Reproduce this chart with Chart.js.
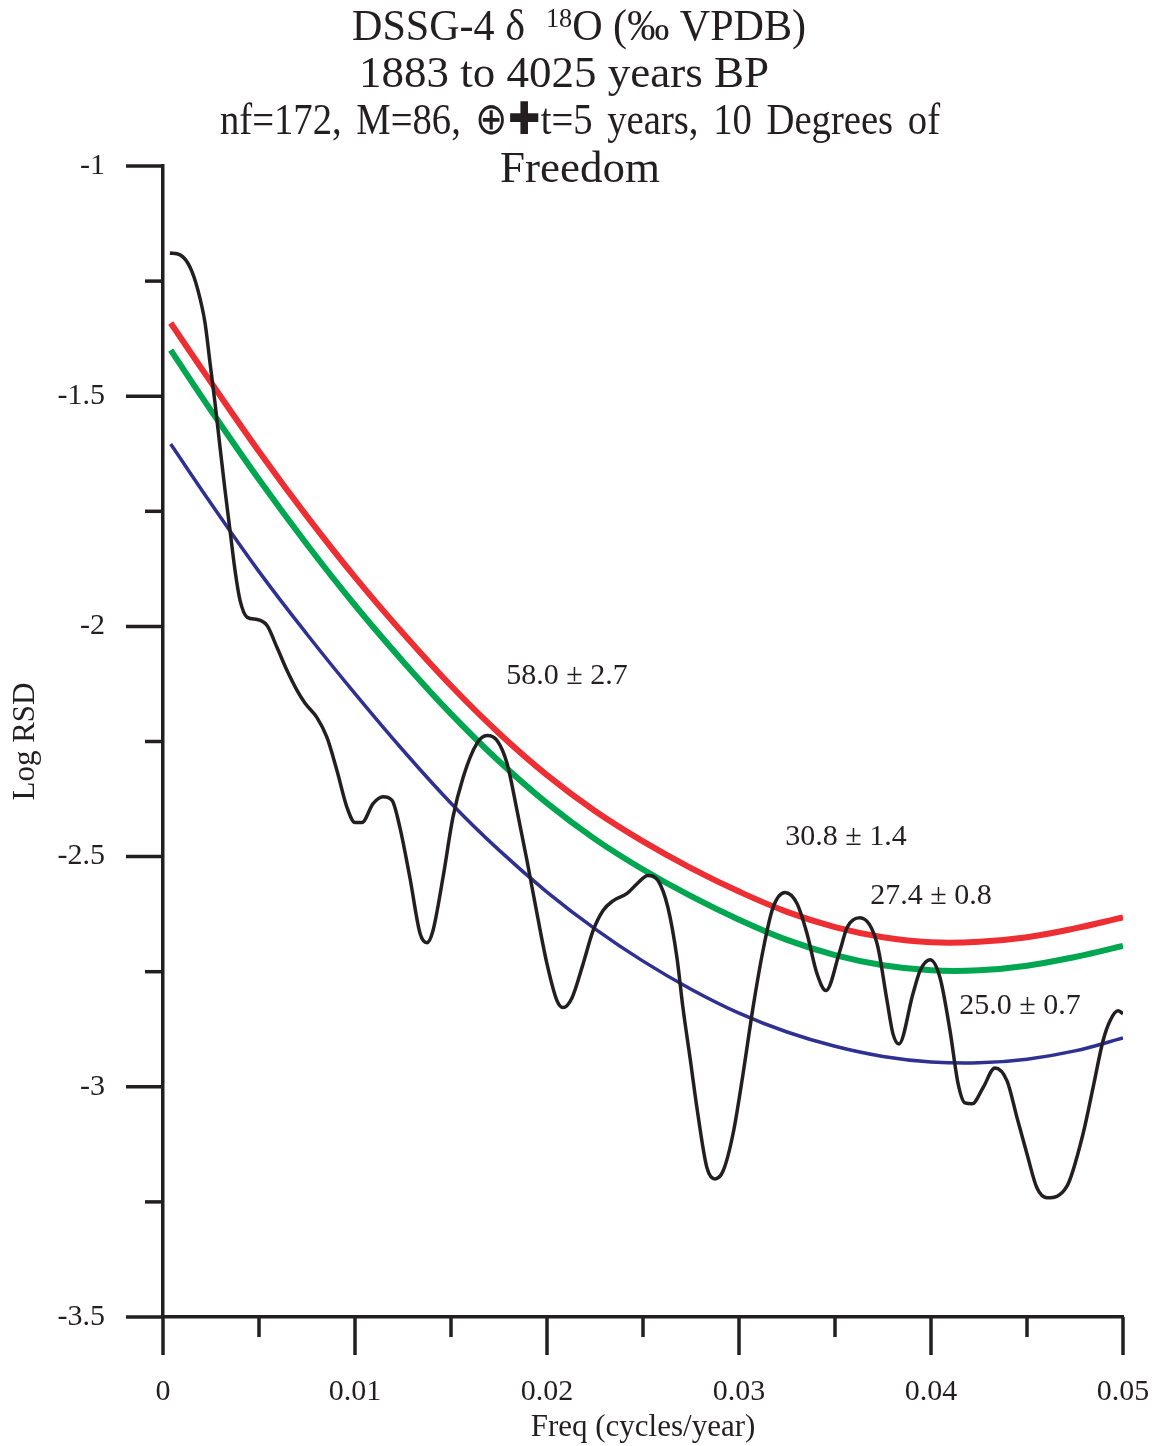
<!DOCTYPE html>
<html lang="en">
<head>
  <meta charset="UTF-8">
  <title>DSSG-4 d18O spectrum</title>
  <script src="https://cdn.jsdelivr.net/npm/chart.js@4.4.3/dist/chart.umd.min.js"></script>
  <style>
    body { margin: 0; background: #fff; }
    #wrap { width: 1158px; height: 1446px; }
  </style>
</head>
<body>
  <div id="wrap"><canvas id="spec" width="1158" height="1446"></canvas></div>

  <script>
    // spectrum (black)
    const rsdFreq = [0.00036, 0.00089, 0.00141, 0.00182, 0.00219, 0.00245, 0.00271, 0.00297, 0.00323, 0.00349,
      0.00375, 0.00401, 0.00438, 0.00490, 0.00542, 0.00594, 0.00646, 0.00698, 0.00740, 0.00802,
      0.00854, 0.00906, 0.00958, 0.01000, 0.01036, 0.01094, 0.01146, 0.01193, 0.01234, 0.01286,
      0.01339, 0.01375, 0.01406, 0.01458, 0.01510, 0.01563, 0.01635, 0.01688, 0.01740, 0.01792,
      0.01844, 0.01896, 0.01948, 0.02000, 0.02052, 0.02083, 0.02130, 0.02188, 0.02240, 0.02292,
      0.02344, 0.02417, 0.02469, 0.02526, 0.02578, 0.02630, 0.02677, 0.02708, 0.02745, 0.02781,
      0.02833, 0.02875, 0.02917, 0.02969, 0.03021, 0.03073, 0.03125, 0.03177, 0.03240, 0.03302,
      0.03354, 0.03406, 0.03453, 0.03526, 0.03563, 0.03630, 0.03719, 0.03771, 0.03802, 0.03833,
      0.03906, 0.03943, 0.03995, 0.04047, 0.04099, 0.04141, 0.04177, 0.04214, 0.04271, 0.04333,
      0.04396, 0.04448, 0.04500, 0.04552, 0.04604, 0.04708, 0.04792, 0.04844, 0.04896, 0.04932,
      0.04974, 0.05000];
    const rsdLog = [-1.189, -1.193, -1.220, -1.270, -1.341, -1.428, -1.515, -1.611, -1.704, -1.791,
      -1.878, -1.943, -1.980, -1.985, -1.998, -2.046, -2.096, -2.139, -2.167, -2.198,
      -2.241, -2.313, -2.393, -2.426, -2.426, -2.385, -2.370, -2.378, -2.437, -2.546,
      -2.667, -2.687, -2.661, -2.546, -2.415, -2.328, -2.254, -2.237, -2.248, -2.298,
      -2.400, -2.509, -2.624, -2.733, -2.813, -2.828, -2.807, -2.733, -2.661, -2.617,
      -2.596, -2.580, -2.559, -2.541, -2.552, -2.611, -2.720, -2.828, -2.937, -3.046,
      -3.176, -3.200, -3.183, -3.102, -2.972, -2.828, -2.704, -2.611, -2.578, -2.602,
      -2.667, -2.754, -2.791, -2.704, -2.654, -2.633, -2.689, -2.813, -2.885, -2.907,
      -2.798, -2.748, -2.724, -2.763, -2.878, -2.993, -3.035, -3.037, -3.002, -2.959,
      -2.987, -3.067, -3.146, -3.220, -3.241, -3.216, -3.102, -3.002, -2.900, -2.857,
      -2.835, -2.841];

    // red-noise fits
    const fitFreq = [0.0004, 0.0025, 0.005, 0.0075, 0.01, 0.0125, 0.015, 0.0175, 0.02, 0.0225,
      0.025, 0.0275, 0.03, 0.0325, 0.035, 0.0375, 0.04, 0.0425, 0.045, 0.0475, 0.05];
    const fitRed = [-1.341, -1.470, -1.620, -1.761, -1.893, -2.015, -2.129, -2.232, -2.323, -2.401,
      -2.467, -2.525, -2.576, -2.620, -2.653, -2.675, -2.686, -2.685, -2.675, -2.656, -2.632];
    const fitGreen = [-1.400, -1.531, -1.681, -1.822, -1.954, -2.076, -2.190, -2.293, -2.384, -2.462,
      -2.528, -2.586, -2.637, -2.681, -2.714, -2.736, -2.747, -2.747, -2.737, -2.718, -2.694];
    const fitBlue = [-1.604, -1.733, -1.881, -2.017, -2.146, -2.269, -2.384, -2.486, -2.577, -2.657,
      -2.727, -2.788, -2.840, -2.881, -2.912, -2.934, -2.946, -2.948, -2.940, -2.922, -2.894];

    // period labels
    const peakText = ['58.0 \u00b1 2.7', '30.8 \u00b1 1.4', '27.4 \u00b1 0.8', '25.0 \u00b1 0.7'];
    const peakAtFreq = [0.02104, 0.03557, 0.04000, 0.04464];
    const peakAtLog = [-2.109, -2.457, -2.585, -2.824];

    const INK = '#231f20';
    const SERIF = "'Liberation Serif', 'Times New Roman', serif";

    const toXY = (xs, ys) => xs.map((x, i) => ({ x: x, y: ys[i] }));
    const plain = v => String(Math.round(v * 1000) / 1000);

    // long and short ticks, drawn through the scales
    const tickMarks = {
      id: 'tickMarks',
      afterDraw(chart) {
        const { ctx, scales: { x, y } } = chart;
        ctx.save();
        ctx.strokeStyle = INK;
        ctx.lineWidth = 3.5;
        const seg = (x1, y1, x2, y2) => { ctx.beginPath(); ctx.moveTo(x1, y1); ctx.lineTo(x2, y2); ctx.stroke(); };
        for (let i = 0; i <= 10; i++) {
          const px = x.getPixelForValue(i * 0.005);
          seg(px, y.bottom, px, y.bottom + (i % 2 === 0 ? 38 : 20));
        }
        for (let i = 0; i <= 10; i++) {
          const py = y.getPixelForValue(-3.5 + i * 0.25);
          seg(x.left, py, x.left - (i % 2 === 0 ? 37 : 18), py);
        }
        ctx.restore();
      }
    };

    const peakLabels = {
      id: 'peakLabels',
      afterDatasetsDraw(chart) {
        const { ctx, scales: { x, y } } = chart;
        ctx.save();
        ctx.fillStyle = INK;
        ctx.font = '30px ' + SERIF;
        ctx.textAlign = 'center';
        ctx.textBaseline = 'middle';
        peakText.forEach((t, i) => ctx.fillText(t, x.getPixelForValue(peakAtFreq[i]), y.getPixelForValue(peakAtLog[i])));
        ctx.restore();
      }
    };

    // draws a run of words squeezed into a given span
    function fitWords(ctx, words, left, span, inkWidth, yPos) {
      const widths = words.map(w => ctx.measureText(w).width);
      const sum = widths.reduce((s, w) => s + w, 0);
      const sx = inkWidth / sum;
      const gap = (span - inkWidth) / (words.length - 1);
      let cx = left;
      words.forEach((w, i) => {
        ctx.save();
        ctx.translate(cx, yPos);
        ctx.scale(sx, 1);
        ctx.fillText(w, 0, 0);
        ctx.restore();
        cx += widths[i] * sx + gap;
      });
    }

    const headline = {
      id: 'headline',
      afterDraw(chart) {
        const ctx = chart.ctx;
        ctx.save();
        ctx.fillStyle = INK;
        ctx.textBaseline = 'middle';
        ctx.textAlign = 'left';
        const big = '45px ' + SERIF, small = '28px ' + SERIF;

        // line 1 with superscript 18
        const a = 'DSSG-4 \u03b4  ', b = '18', c = 'O (\u2030 VPDB)';
        ctx.font = big; const wa = ctx.measureText(a).width, wc = ctx.measureText(c).width;
        ctx.font = small; const wb = ctx.measureText(b).width;
        const sx = 454 / (wa + wb + wc);
        ctx.save();
        ctx.translate(352, 0);
        ctx.scale(sx, 1);
        ctx.font = big; ctx.fillText(a, 0, 28);
        ctx.font = small; ctx.fillText(b, wa, 20);
        ctx.font = big; ctx.fillText(c, wa + wb, 28);
        ctx.restore();

        ctx.font = big;
        ctx.textAlign = 'center';
        ctx.fillText('1883 to 4025 years BP', 564, 75);

        ctx.textAlign = 'left';
        fitWords(ctx, ['nf=172,', 'M=86,', '\u2295\u271at=5', 'years,', '10', 'Degrees', 'of'], 220, 720, 632, 122);

        ctx.textAlign = 'center';
        ctx.fillText('Freedom', 580, 170);
        ctx.restore();
      }
    };

    new Chart(document.getElementById('spec'), {
      type: 'scatter',
      data: {
        datasets: [
          { label: 'spectrum', data: toXY(rsdFreq, rsdLog), borderColor: INK, borderWidth: 3.5,
            showLine: true, pointRadius: 0, cubicInterpolationMode: 'monotone', order: 1 },
          { label: 'red', data: toXY(fitFreq, fitRed), borderColor: '#ed2e33', borderWidth: 6,
            showLine: true, pointRadius: 0, tension: 0.4, order: 2 },
          { label: 'green', data: toXY(fitFreq, fitGreen), borderColor: '#00a650', borderWidth: 6,
            showLine: true, pointRadius: 0, tension: 0.4, order: 3 },
          { label: 'blue', data: toXY(fitFreq, fitBlue), borderColor: '#2e3192', borderWidth: 3.5,
            showLine: true, pointRadius: 0, tension: 0.4, order: 4 }
        ]
      },
      options: {
        responsive: false,
        animation: false,
        layout: { padding: { top: 166, right: 35, bottom: 0, left: 0 } },
        plugins: { legend: { display: false }, tooltip: { enabled: false } },
        scales: {
          x: {
            type: 'linear', min: 0, max: 0.05,
            afterFit: s => { s.height = 129; s.paddingLeft = 0; s.paddingRight = 0; },
            grid: { display: false, drawTicks: false },
            border: { display: true, color: INK, width: 3.5 },
            ticks: { stepSize: 0.01, padding: 57, color: INK, font: { family: SERIF, size: 30 }, callback: plain },
            title: { display: true, text: 'Freq (cycles/year)', color: INK, padding: 0,
              font: { family: SERIF, size: 31 } }
          },
          y: {
            type: 'linear', min: -3.5, max: -1,
            afterFit: s => { s.width = 163; s.paddingTop = 0; s.paddingBottom = 0; },
            grid: { display: false, drawTicks: false },
            border: { display: true, color: INK, width: 3.5 },
            ticks: { stepSize: 0.5, padding: 58, color: INK, font: { family: SERIF, size: 30 }, callback: plain },
            title: { display: true, text: 'Log RSD', color: INK, padding: { top: 7, bottom: 0 },
              font: { family: SERIF, size: 31 } }
          }
        }
      },
      plugins: [tickMarks, peakLabels, headline]
    });
  </script>
</body>
</html>
